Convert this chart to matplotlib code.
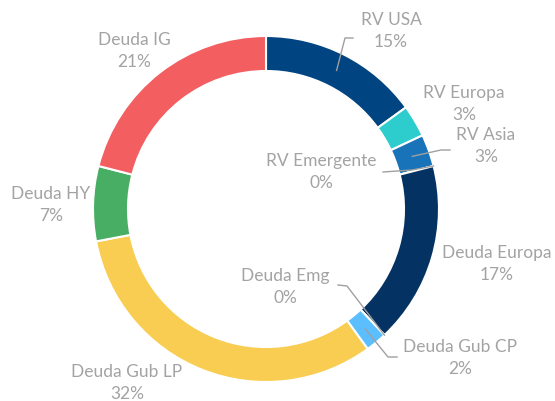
import matplotlib.pyplot as plt
import numpy as np

# Distribucion de la cartera (orden de las agujas del reloj, desde arriba)
categorias = ['RV USA', 'RV Europa', 'RV Asia', 'RV Emergente', 'Deuda Europa',
              'Deuda Emg', 'Deuda Gub CP', 'Deuda Gub LP', 'Deuda HY', 'Deuda IG']
pesos = [15, 3, 3, 0, 17, 0, 2, 32, 7, 21]
colores = ['#004481', '#2DCCCD', '#1973B8', '#1973B8', '#043263',
           '#5BBEFF', '#5BBEFF', '#F8CD51', '#48AE64', '#F35E61']

W, H = 555, 401
CX, CY, R, ANCHO = 266, 209, 173, 35
GRIS = '#A3A3A3'

# posiciones de las etiquetas en pixeles (centro del bloque de dos lineas)
pos_etiquetas = {
    'RV USA': (391, 31), 'RV Europa': (464, 104), 'RV Asia': (486, 146),
    'RV Emergente': (321, 172), 'Deuda Europa': (497, 264), 'Deuda Emg': (285, 287),
    'Deuda Gub CP': (460, 358), 'Deuda Gub LP': (127, 383), 'Deuda HY': (51, 205),
    'Deuda IG': (134, 51),
}
# lineas guia: punto junto al texto y codo
guias = {
    'RV USA': [(353, 38), (345, 38)],
    'RV Asia': [(450, 150), (441, 150)],
    'RV Emergente': [(383, 172), (412, 170)],
    'Deuda Emg': [(338, 285), (347, 286)],
    'Deuda Gub CP': [(397, 357), (388, 357)],
}


def py(y):
    return H - y


fig = plt.figure(figsize=(W / 100, H / 100), dpi=100)
ax = fig.add_axes([0, 0, 1, 1])

ax.pie(pesos, colors=colores, startangle=90, counterclock=False,
       radius=R, center=(CX, py(CY)),
       wedgeprops=dict(width=ANCHO, edgecolor='white', linewidth=1.5))
ax.set_xlim(0, W)
ax.set_ylim(0, H)
ax.set_aspect('auto')
ax.axis('off')

total = sum(pesos)
acum = np.cumsum([0] + pesos[:-1])
for cat, v, a in zip(categorias, pesos, acum):
    x, y = pos_etiquetas[cat]
    fuente = dict(color=GRIS, fontsize=12.5, family='Lato', fontweight='normal',
                  ha='center', va='center')
    ax.text(x, py(y - 11), cat, **fuente)
    ax.text(x, py(y + 11), f'{v}%', **fuente)
    if cat in guias:
        ang = np.deg2rad(90 - 360 * (a + v / 2) / total)
        r = R - ANCHO / 2 if v > 0 else R
        ax_, ay_ = CX + r * np.cos(ang), py(CY) + r * np.sin(ang)
        pts = guias[cat]
        xs = [p[0] for p in pts] + [ax_]
        ys = [py(p[1]) for p in pts] + [ay_]
        ax.plot(xs, ys, color='#A0A0A0', lw=1)

fig.savefig('out.png', dpi=100)
